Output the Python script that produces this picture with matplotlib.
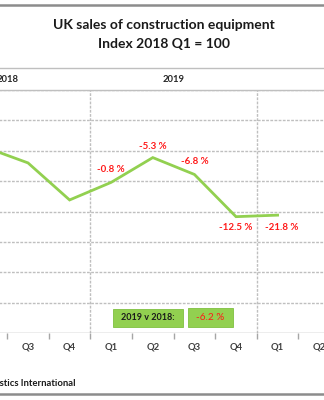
import matplotlib
matplotlib.use("Agg")
import matplotlib.pyplot as plt
from matplotlib.patches import Rectangle
from matplotlib.lines import Line2D

plt.rcParams['font.family'] = ['Lato', 'DejaVu Sans']

quarters = ["Q1", "Q2", "Q3", "Q4", "Q1", "Q2", "Q3", "Q4", "Q1", "Q2"]
years = ["2018", "2019"]
index_values = [100, 122.0, 112.0, 87.6, 99.2, 115.5, 104.4, 76.6, 77.6]
pct_labels = [None, None, None, None, "-0.8 %", "-5.3 %", "-6.8 %", "-12.5 %", "-21.8 %"]
summary_label = "2019 v 2018:"
summary_value = "-6.2 %"

W, H = 324, 400
fig = plt.figure(figsize=(W / 100, H / 100), dpi=100)

# axes placed so that the chart is cropped on the left
x_left_px = -76.0
x_right_px = 340.0
y_bottom_px = 333.0
y_top_px = 90.0
ax = fig.add_axes([x_left_px / W, (H - y_bottom_px) / H,
                   (x_right_px - x_left_px) / W, (y_bottom_px - y_top_px) / H])
ax.set_xlim(-0.5, 9.5)
ax.set_ylim(0, 160)

green = "#92D050"
grid_c = "#BFBFBF"

for v in range(20, 161, 20):
    ax.axhline(v, color=grid_c, lw=1.0, ls=(0, (2, 1)), zorder=1)
for xb in [3.5, 7.5]:
    ax.axvline(xb, color=grid_c, lw=1.0, ls=(0, (2, 1)), zorder=1)

xs = list(range(len(index_values)))
ax.plot(xs, index_values, color=green, lw=2.0, zorder=3, solid_joinstyle='miter')

offsets = {4: (0, 9), 5: (0, 8), 6: (0, 9), 7: (0, -8), 8: (3, -9)}
for i, lab in enumerate(pct_labels):
    if lab:
        dx, dy = offsets[i]
        ax.annotate(lab, (i, index_values[i]), xytext=(dx, dy), textcoords='offset points',
                    ha='center', va='center', color='#FF1A1A', fontsize=7.0,
                    fontweight='bold', zorder=4)

for s in ax.spines.values():
    s.set_visible(False)
ax.axhline(0, color='#A6A6A6', lw=1.0, zorder=2)
ax.set_yticks([])
ax.set_xticks([i + 0.5 for i in range(-1, 10)])
ax.set_xticklabels([])
ax.tick_params(axis='x', length=4, color='#A6A6A6', width=1)
for i, q in enumerate(quarters):
    if i < 2:
        continue  # these categories lie outside the visible (cropped) area
    ax.text(i, -9.5, q, ha='center', va='center', fontsize=6.8, fontweight='bold',
            color='#404040', clip_on=False)

# summary boxes (axes-data coordinates)
ax.add_patch(Rectangle((4.04, 4), 1.68, 11.8, facecolor=green, edgecolor='#7FC040', lw=0.6, zorder=4))
ax.text(4.04 + 1.68 / 2, 9.9, summary_label, ha='center', va='center', fontsize=6.5,
        fontweight='bold', color='#1A1A1A', zorder=5)
ax.add_patch(Rectangle((5.85, 4), 1.08, 12.5, facecolor=green, edgecolor='#7FC040', lw=0.6, zorder=4))
ax.text(5.85 + 1.08 / 2, 10.3, summary_value, ha='center', va='center', fontsize=7.2,
        color='#FF1A1A', zorder=5)

# header band / frame lines
def hline(ypx, color, lw):
    fig.add_artist(Line2D([0, 1], [1 - ypx / H, 1 - ypx / H], color=color, lw=lw,
                          transform=fig.transFigure))

hline(5, '#8C8C8C', 1.8)
hline(68, '#BFBFBF', 1.0)
hline(89.5, '#BFBFBF', 1.0)
hline(394, '#8C8C8C', 1.8)

fig.text(164 / W, 1 - 25 / H, "UK sales of construction equipment", ha='center', va='center',
         fontsize=10, fontweight='bold', color='#1A1A1A')
fig.text(164.5 / W, 1 - 44 / H, "Index 2018 Q1 = 100", ha='center', va='center',
         fontsize=10, fontweight='bold', color='#1A1A1A')

# year labels in header
for k, yr in enumerate(years):
    xc = 1.5 + 4 * k
    ax.text(xc, 1.0 + (y_top_px - 79) / (y_bottom_px - y_top_px), yr, transform=ax.get_xaxis_transform(),
            ha='center', va='center', fontsize=6.8, fontweight='bold', color='#262626', clip_on=False)

fig.text(75 / W, 1 - 383 / H, "Source: Statistics International", ha='right', va='center',
         fontsize=6.8, fontweight='bold', color='#1A1A1A')

fig.savefig("out.png", dpi=100)
